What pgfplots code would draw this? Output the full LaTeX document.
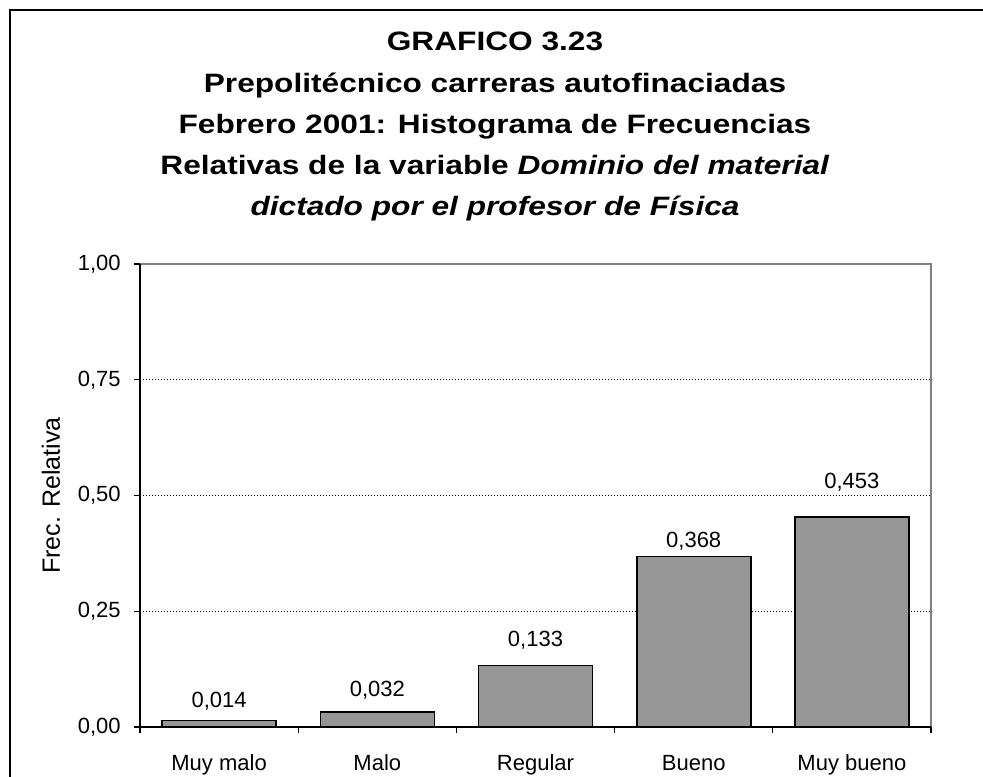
\documentclass[border=0pt]{standalone}
\usepackage{fontspec}
\setmainfont{Liberation Sans}
\newfontfamily\titlefont[FakeStretch=1.19]{Liberation Sans}
\usepackage{pgfplots}
\pgfplotsset{compat=1.18}
\pgfkeys{/pgf/number format/assume math mode=true}
\definecolor{barfill}{RGB}{150,150,150}
\definecolor{boxgray}{RGB}{128,128,128}
\begin{document}
\begin{tikzpicture}[x=1pt,y=1pt]
\useasboundingbox (0,0) rectangle (491.5,388);
\draw[line width=1pt] (5,-2) -- (5,383) -- (495,383);
\begin{scope}[font=\titlefont\bfseries\fontsize{13.3}{16}\selectfont]
\node[anchor=base] at (247.5,362.5) {GRAFICO 3.23};
\node[anchor=base] at (247.5,341.9) {Prepolitécnico carreras autofinaciadas};
\node[anchor=base] at (247.5,321.3) {Febrero 2001: Histograma de Frecuencias};
\node[anchor=base] at (247.5,300.6) {Relativas de la variable \textit{Dominio del material}};
\node[anchor=base] at (247.5,280) {\textit{dictado por el profesor de Física}};
\end{scope}
\begin{axis}[
  at={(70pt,24.5pt)}, anchor=south west,
  scale only axis, width=395.5pt, height=231.5pt,
  xmin=-0.5, xmax=4.5, ymin=0, ymax=1,
  ytick={0,0.25,0.5,0.75,1},
  /pgf/number format/.cd, fixed, fixed zerofill, precision=2, use comma, /pgfplots/.cd,
  xtick={-0.5,0.5,1.5,2.5,3.5,4.5}, xticklabels={},
  extra x ticks={0,1,2,3,4},
  extra x tick labels={Muy malo,Malo,Regular,Bueno,Muy bueno},
  extra x tick style={major tick length=0pt},
  xtick pos=bottom, ytick pos=left,
  tick align=outside, major tick length=3pt,
  tick style={black, line width=0.6pt},
  ymajorgrids,
  grid style={black, line width=0.5pt, dash pattern=on 0.5pt off 1pt},
  axis line style={draw=none},
  tick label style={font=\fontsize{11}{13}\selectfont},
  yticklabel style={inner sep=0pt, xshift=-6.5pt},
  xticklabel style={anchor=base, yshift=-21.5pt},
  ylabel={Frec. Relativa},
  ylabel style={font=\fontsize{12.5}{15}\selectfont, at={(axis description cs:-0.1125,0.5)}, anchor=center},
  ybar, bar width=57pt,
  clip=false,
]
\addplot[fill=barfill, draw=black, line width=0.8pt,
  point meta=explicit symbolic,
  visualization depends on={\thisrow{off} \as \off},
  nodes near coords,
  every node near coord/.append style={font=\fontsize{11}{13}\selectfont, anchor=base, inner sep=0pt, yshift=\off pt},
] table[x=x, y=y, meta=lab] {
x y lab off
0 0.014 0,014 6.76
1 0.032 0,032 7.94
2 0.133 0,133 9.56
3 0.368 0,368 4.31
4 0.453 0,453 14.33
};
\draw[boxgray, line width=0.7pt] (rel axis cs:0,1) -- (rel axis cs:1,1) -- (rel axis cs:1,0);
\draw[black, line width=1pt] (rel axis cs:0,1) -- (rel axis cs:0,0) -- (rel axis cs:1,0);
\end{axis}
\end{tikzpicture}
\end{document}
